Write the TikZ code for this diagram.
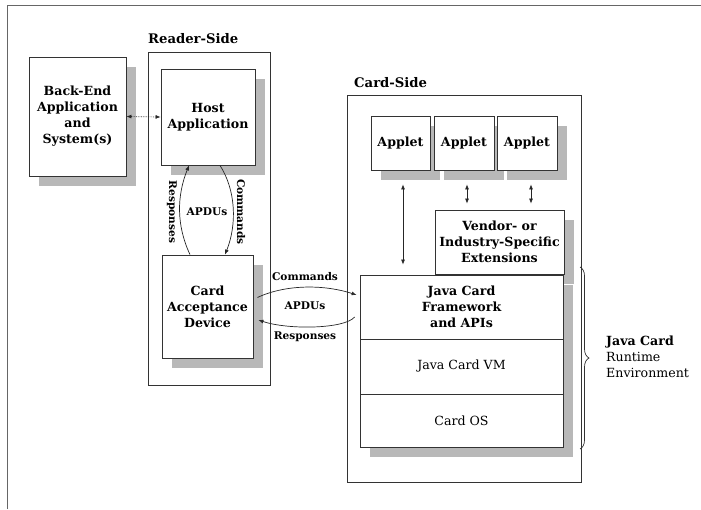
\documentclass[tikz,border=0pt]{standalone}
\usepackage{fontspec}
\setmainfont{DejaVu Serif}
\usetikzlibrary{arrows.meta,shadows,calc,decorations.pathreplacing}
\begin{document}
\begin{tikzpicture}[x=1pt,y=-1pt,
  frame/.style={draw=black!80,line width=0.8pt},
  box/.style={frame,fill=white,align=center,inner sep=0pt,font=\fontsize{12.6}{16}\selectfont\bfseries},
  shbox/.style={box,drop shadow={shadow xshift=10pt,shadow yshift=-10pt,fill=black!28,opacity=1}},
  tip/.style={-{Latex[length=5pt,width=4pt]}},
  dtip/.style={{Latex[length=5pt,width=4pt]}-{Latex[length=5pt,width=4pt]}},
  lbl/.style={font=\fontsize{10.6}{13}\selectfont\bfseries,inner sep=0pt},
  ttl/.style={font=\fontsize{13.2}{16}\selectfont\bfseries,inner sep=0pt},
  conn/.style={line width=0.7pt,black!85}
]
\useasboundingbox (0,0) rectangle (701,509);
\draw[black!60,line width=0.7pt] (7,509) -- (7,5) -- (701,5);

% group frames
\node[frame,minimum width=122pt,minimum height=333pt,inner sep=0pt] (reader) at (209,218.5) {};
\node[ttl,anchor=west] (readerlbl) at (148,39) {Reader-Side};
\node[frame,minimum width=234pt,minimum height=387pt,inner sep=0pt] (card) at (464,288.5) {};
\node[ttl,anchor=west] (cardlbl) at (354,83) {Card-Side};

% reader-side boxes
\node[shbox,minimum width=97pt,minimum height=119pt] (backend) at (77.5,116.5) {Back-End\\Application\\and\\System(s)};
\node[shbox,minimum width=94pt,minimum height=96pt] (host) at (208,117) {Host\\Application};
\node[shbox,minimum width=91pt,minimum height=103pt] (cad) at (207.5,306.5) {Card\\Acceptance\\Device};

% card-side boxes
\node[shbox,minimum width=59pt,minimum height=54pt] (a1) at (400.5,143) {Applet};
\node[shbox,minimum width=60pt,minimum height=54pt] (a2) at (464,143) {Applet};
\node[shbox,minimum width=60pt,minimum height=54pt] (a3) at (527,143) {Applet};
\node[shbox,minimum width=129pt,minimum height=64pt] (vendor) at (499.5,242) {Vendor- or\\Industry-Specific\\Extensions};
\node[shbox,minimum width=203pt,minimum height=64pt] (fw) at (461.5,307) {Java Card\\Framework\\and APIs};
\node[shbox,minimum width=203pt,minimum height=55pt,font=\fontsize{12.6}{16}\selectfont] (vm) at (461.5,366.5) {Java Card VM};
\node[shbox,minimum width=203pt,minimum height=53pt,font=\fontsize{12.6}{16}\selectfont] (os) at (461.5,420.5) {Card OS};

% connectors
\draw[conn,dtip,densely dotted] (backend.east) -- (host.west);

\draw[conn,tip] ([xshift=-17.5pt]cad.north) .. controls +(-14,-30) and +(-12,30) .. ([xshift=-19pt]host.south);
\draw[conn,tip] ([xshift=12pt]host.south) .. controls +(16,25) and +(12,-30) .. ([xshift=17.5pt]cad.north);
\node[lbl,rotate=-90] (resp1) at (172,212) {Responses};
\node[lbl,rotate=-90] (cmd1) at (241,212) {Commands};
\node[lbl] (apdu1) at (207,212) {APDUs};

\draw[conn,tip] ($(cad.east)+(4,-9)$) .. controls +(30,-14) and +(-30,-10) .. ($(fw.west)+(-3,-12)$);
\draw[conn,tip] ($(fw.west)+(-5,10)$) .. controls +(-10,12) and +(30,10) .. ($(cad.east)+(5,13.5)$);
\node[lbl] (cmd2) at (305,277) {Commands};
\node[lbl] (apdu2) at (305,306) {APDUs};
\node[lbl] (resp2) at (305,337) {Responses};

\draw[conn,dtip,shorten <=14pt,shorten >=10pt] ([xshift=2.5pt]a1.south) -- ([xshift=2.5pt]a1.south |- fw.north);
\draw[conn,dtip,shorten <=14pt,shorten >=6pt] ([xshift=3pt]a2.south) -- ([xshift=3pt]a2.south |- vendor.north);
\draw[conn,dtip,shorten <=14pt,shorten >=6pt] ([xshift=4pt]a3.south) -- ([xshift=4pt]a3.south |- vendor.north);

% brace
\coordinate (bt) at (580,267);
\coordinate (bb) at (580,449);
\draw[black!80,line width=0.7pt,decorate,decoration={brace,amplitude=9pt}] (bt) -- (bb);
\node[anchor=west,align=left,inner sep=0pt,font=\fontsize{12.6}{16}\selectfont] (jcre) at (606,357) {\textbf{Java Card}\\Runtime\\Environment};
\end{tikzpicture}
\end{document}
